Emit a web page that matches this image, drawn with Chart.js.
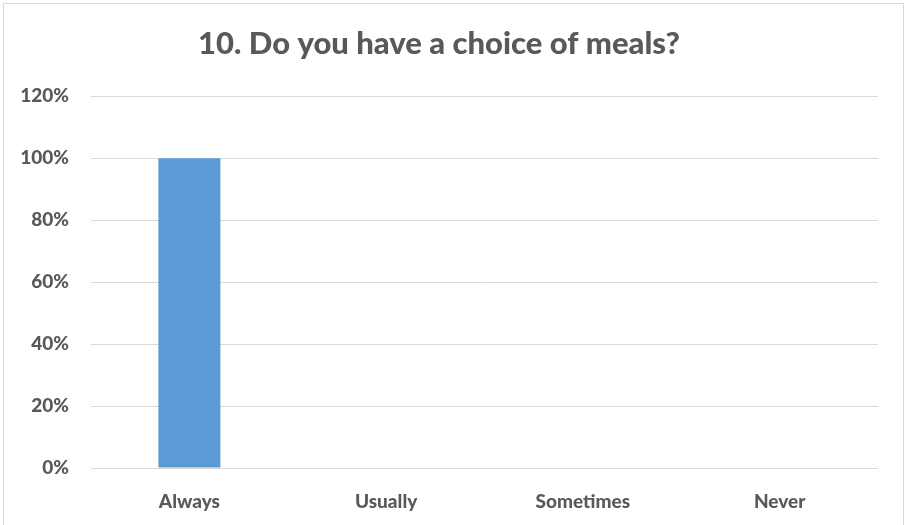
<!DOCTYPE html>
<html>
<head>
<meta charset="utf-8">
<script src="https://cdn.jsdelivr.net/npm/chart.js@4/dist/chart.umd.min.js"></script>
<style>
  html, body { margin: 0; padding: 0; background: #fff; overflow: hidden; }
  #frame {
    position: absolute; left: 3px; top: 3px; width: 901px; height: 600px;
    border: 1px solid #d9d9d9; box-sizing: border-box;
  }
  #chart { position: absolute; left: 0; top: 0; }
</style>
</head>
<body>
<div id="frame"></div>
<canvas id="chart" width="907" height="525"></canvas>
<script>
// Chart data
const categories = ['Always', 'Usually', 'Sometimes', 'Never'];
const shares = [1.0, 0, 0, 0];
const tickValues = [0, 0.2, 0.4, 0.6, 0.8, 1.0, 1.2];

const textColor = '#595959';
const gridColor = '#d9d9d9';

const ctx = document.getElementById('chart').getContext('2d');

const barChart = new Chart(ctx, {
  type: 'bar',
  data: {
    labels: categories,
    datasets: [
      {
        data: shares,
        backgroundColor: '#5b9bd5',
        borderWidth: 0,
        categoryPercentage: 1,
        barPercentage: 0.315,
      },
    ],
  },
  options: {
    responsive: false,
    animation: false,
    layout: {
      padding: { left: 0, right: 29, top: 0, bottom: 0 },
    },
    plugins: {
      legend: { display: false },
      tooltip: { enabled: false },
      title: {
        display: true,
        text: '10. Do you have a choice of meals?',
        color: textColor,
        font: { family: 'Lato', size: 31, weight: '900' },
        padding: { top: 25, bottom: 34 },
      },
    },
    scales: {
      x: {
        grid: { display: false },
        border: { display: false },
        ticks: {
          color: textColor,
          font: { family: 'Lato', size: 19, weight: '900' },
          padding: 14,
          maxRotation: 0,
        },
        afterFit: (scale) => {
          scale.height = 57;
        },
      },
      y: {
        min: 0,
        max: 1.2,
        afterBuildTicks: (scale) => {
          scale.ticks = tickValues.map((v) => ({ value: v }));
        },
        grid: { color: gridColor, lineWidth: 1, drawTicks: false },
        border: { display: false },
        ticks: {
          color: textColor,
          font: { family: 'Lato', size: 19, weight: '900' },
          padding: 22,
          callback: (v) => Math.round(v * 100) + '%',
        },
        afterFit: (scale) => {
          scale.width = 91;
        },
      },
    },
  },
});
</script>
</body>
</html>
